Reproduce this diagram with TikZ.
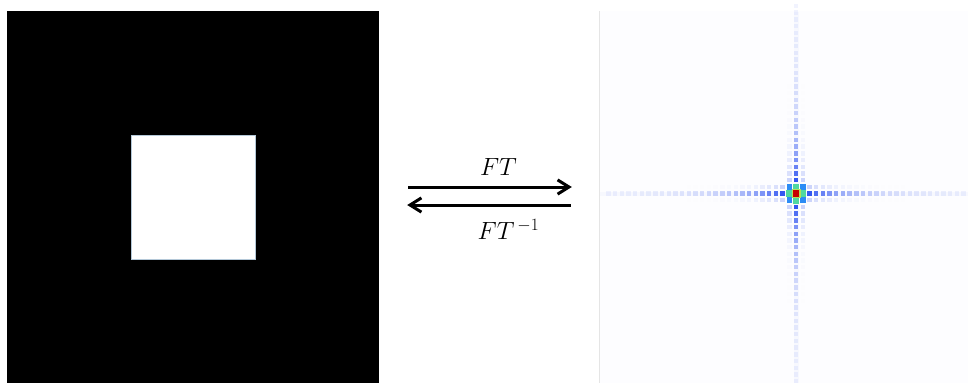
\documentclass[tikz,border=0pt]{standalone}
\usepackage{tikz}
\usetikzlibrary{positioning, arrows.meta, calc}
\definecolor{jred}{HTML}{C80000}
\definecolor{jyel}{HTML}{B4E05A}
\definecolor{jgreen}{HTML}{50D8A0}
\definecolor{jcyan}{HTML}{2C8CF5}
\definecolor{jblue}{HTML}{1E46F0}
\definecolor{edge}{HTML}{B4C8D8}
\definecolor{planebg}{HTML}{FDFDFF}
\definecolor{ink}{HTML}{000000}

\begin{document}
\begin{tikzpicture}[
    x=1pt, y=-1pt,
    panel/.style={rectangle, inner sep=0pt, minimum width=#1, minimum height=372pt},
    sqr/.style={rectangle, inner sep=0pt, minimum size=124pt, fill=white, draw=edge, line width=0.8pt},
    arr/.style={-{Straight Barb[length=4mm, width=5mm, line width=3pt]}, draw=ink, line width=3pt,
        shorten <=29pt, shorten >=28pt},
    lbl/.style={font=\fontsize{23}{27}\selectfont, text=ink, inner sep=#1, midway},
    spot/.style={fill=jblue},
]
\useasboundingbox (0,0) rectangle (968,383);

% ---------------------------------------------------------------- spatial domain
\node (space) [panel=372pt, fill=black] at (193,197) {};
\node (box)   [sqr] at (space.center) {};

% ---------------------------------------------------------------- frequency domain
\node (freq) [panel=368pt, fill=planebg] at (784,197) {};
\draw [black!10, line width=0.8pt] (freq.north west) -- (freq.south west);
\coordinate (peak) at (796,193.5);

% faint arms
\fill [jblue, opacity=0.025, shift={(peak)}] (-2.5,-182) rectangle (2.5,189);
\fill [jblue, opacity=0.025, shift={(peak)}] (-196,-2) rectangle (172,2);

\foreach \k in {2,...,28}{
    \pgfmathsetmacro\op{0.85*exp(-(\k-2)/6)+0.05}
    \pgfmathsetmacro\sb{0.22*exp(-(\k-2)/3)}
    \foreach \s in {-1,1}{
        \fill [spot, opacity=\op, shift={(peak)}] (\s*\k*6.7-2.2,-2.2) rectangle ++(4.4,4.4);
        \fill [spot, opacity=\op, shift={(peak)}] (-2.2,\s*\k*6.7-2.2) rectangle ++(4.4,4.4);
        \fill [spot, opacity=\sb, shift={(peak)}] (\s*\k*6.7-2.2,-8.9) rectangle ++(4.4,4.4);
        \fill [spot, opacity=\sb, shift={(peak)}] (\s*\k*6.7-2.2,4.5) rectangle ++(4.4,4.4);
        \fill [spot, opacity=\sb, shift={(peak)}] (-8.9,\s*\k*6.7-2.2) rectangle ++(4.4,4.4);
        \fill [spot, opacity=\sb, shift={(peak)}] (4.5,\s*\k*6.7-2.2) rectangle ++(4.4,4.4);
    }
}
\foreach \dx/\dy in {-1/-1, 1/-1, -1/1, 1/1}
    \fill [jcyan, shift={(peak)}] (\dx*6.7-2.8,\dy*6.7-2.8) rectangle ++(5.6,5.6);
\foreach \dx/\dy in {-1/0, 1/0, 0/-1, 0/1}
    \fill [jgreen, shift={(peak)}] (\dx*6.7-3.3,\dy*6.7-3.3) rectangle ++(6.6,6.6);
\fill [jyel, shift={(peak)}] (-4.5,-4.5) rectangle (4.5,4.5);
\fill [jred, shift={(peak)}] (-3.2,-3.2) rectangle (3.2,3.2);

% ---------------------------------------------------------------- transforms
\draw [arr] ([yshift=10pt]space.east) -- node[lbl=10pt, above, xshift=9pt] {$FT$} ([yshift=10pt]freq.west);
\draw [arr] ([yshift=-8pt]freq.west) -- node[lbl=13pt, below, xshift=19pt] {$FT^{\,-1}$} ([yshift=-8pt]space.east);

\end{tikzpicture}
\end{document}
